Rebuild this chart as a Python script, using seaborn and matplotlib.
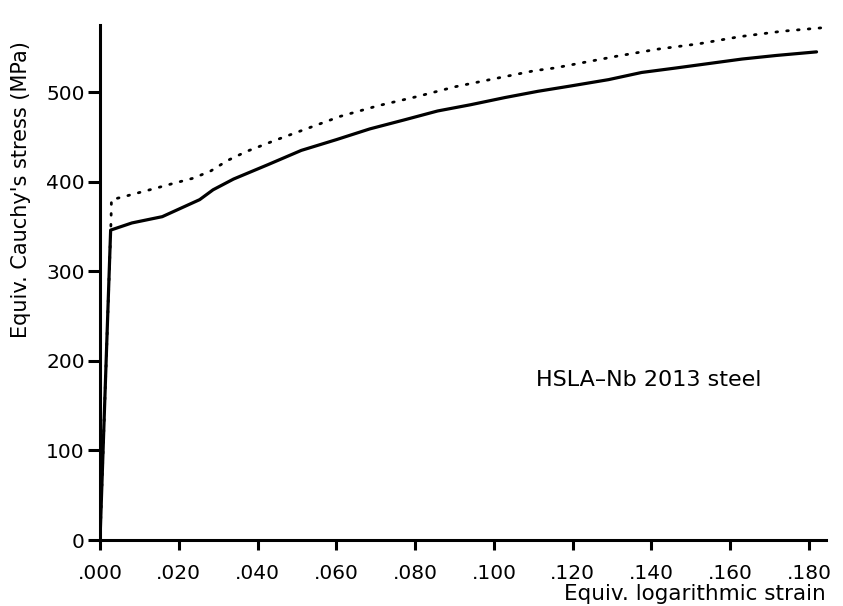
import matplotlib
matplotlib.use("Agg")
import matplotlib.pyplot as plt
import seaborn as sns
import pandas as pd

# Data
solid_strain = [0.0, 0.0027, 0.0081, 0.0158, 0.0253, 0.0287, 0.0339, 0.0426, 0.0511,
                0.060, 0.0685, 0.0772, 0.0857, 0.0941, 0.1028, 0.1112, 0.1196, 0.1291,
                0.1375, 0.1462, 0.1546, 0.163, 0.1717, 0.1819]
solid_stress = [0, 346, 354, 361, 380, 391, 403, 419, 435, 447, 459, 469, 479, 486,
                494, 501, 507, 514, 522, 527, 532, 537, 541, 545]

dotted_strain = [0.0, 0.0028, 0.0029, 0.0058, 0.0083, 0.0135, 0.0185, 0.0237, 0.0281,
                 0.0325, 0.0373, 0.042, 0.0443, 0.061, 0.0707, 0.0804, 0.0901, 0.1001,
                 0.1103, 0.1154, 0.131, 0.1415, 0.152, 0.1624, 0.1731, 0.1836]
dotted_stress = [0, 356, 380, 383, 386, 392, 398, 404, 412, 424, 434, 442, 446, 473,
                 485, 495, 506, 515, 524, 527, 540, 548, 554, 562, 568, 572]

x_ticks = [0.0, 0.02, 0.04, 0.06, 0.08, 0.10, 0.12, 0.14, 0.16, 0.18]
x_tick_labels = [".000", ".020", ".040", ".060", ".080", ".100", ".120", ".140", ".160", ".180"]
y_ticks = [0, 100, 200, 300, 400, 500]
y_tick_labels = ["0", "100", "200", "300", "400", "500"]

x_label = "Equiv. logarithmic strain"
y_label = "Equiv. Cauchy's stress (MPa)"
annotation = "HSLA\u2013Nb 2013 steel"

sns.set_style("ticks")
plt.rcParams['font.family'] = ['DejaVu Sans']

solid_df = pd.DataFrame({"strain": solid_strain, "stress": solid_stress})
dotted_df = pd.DataFrame({"strain": dotted_strain, "stress": dotted_stress})

fig = plt.figure(figsize=(8.43, 6.06), dpi=100)
ax = fig.add_axes([100 / 843, 1 - 540 / 606, 726 / 843, 515 / 606])

sns.lineplot(data=dotted_df, x="strain", y="stress", sort=False, estimator=None,
             ax=ax, color="black", linewidth=2.0, linestyle=(0, (0.6, 3.3)),
             dash_capstyle="round")
sns.lineplot(data=solid_df, x="strain", y="stress", sort=False, estimator=None,
             ax=ax, color="black", linewidth=2.3)

ax.set_xlim(0, 0.1843)
ax.set_ylim(0, 575)
ax.set_xticks(x_ticks)
ax.set_xticklabels(x_tick_labels)
ax.set_yticks(y_ticks)
ax.set_yticklabels(y_tick_labels)

for side in ["top", "right"]:
    ax.spines[side].set_visible(False)
for side in ["left", "bottom"]:
    ax.spines[side].set_linewidth(2.2)
    ax.spines[side].set_color("black")

ax.tick_params(axis="x", direction="out", length=7, width=2.2, pad=10,
               labelsize=14.5, colors="black")
ax.tick_params(axis="y", direction="out", length=9, width=2.2, pad=2,
               labelsize=14.5, colors="black")

ax.set_xlabel(x_label, fontsize=15.5, loc="right", labelpad=1, color="black")
ax.set_ylabel(y_label, fontsize=15, color="black")
ax.yaxis.set_label_coords(-0.095, 0.68)

ax.text(0.6, 0.31, annotation, transform=ax.transAxes, fontsize=16,
        ha="left", va="center", color="black")

fig.savefig("out.png", dpi=100, facecolor="white")
